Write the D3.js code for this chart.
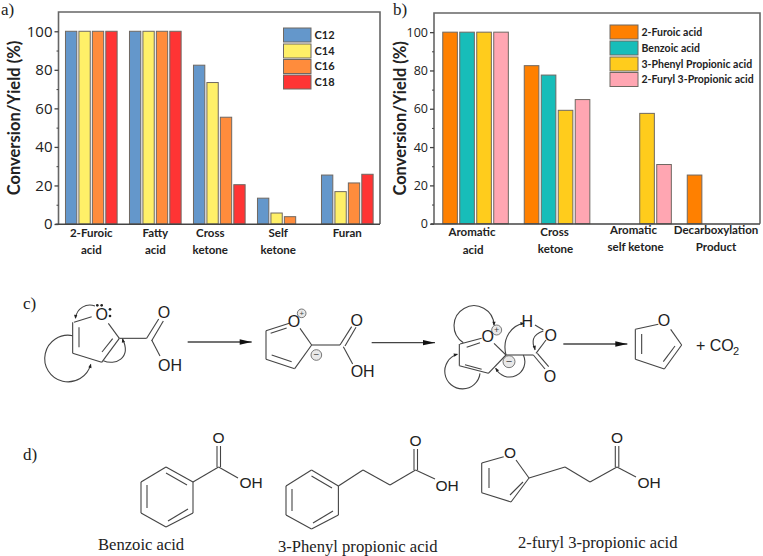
<!DOCTYPE html>
<html><head><meta charset="utf-8">
<script src="https://cdn.jsdelivr.net/npm/d3@7"></script>
<style>html,body{margin:0;padding:0;background:#fff}svg{display:block}</style>
</head><body><svg id="c" width="763" height="556"></svg>
<script>
// ---- panel a data
const catsA = ["2-Furoic|acid","Fatty|acid","Cross|ketone","Self|ketone","Furan"];
const seriesA = ["C12","C14","C16","C18"];
const c12 = [100,100,82.4,13.4,25.4];
const c14 = [100,100,73.4,5.7,16.8];
const c16 = [100,100,55.4,3.8,21.3];
const c18 = [100,100,20.4,null,25.8];
const coloursA = ["#6497cb","#fff068","#ff8c3c","#ff3434"];
// ---- panel b data
const catsB = ["Aromatic|acid","Cross|ketone","Aromatic|self ketone","Decarboxylation|Product"];
const seriesB = ["2-Furoic acid","Benzoic acid","3-Phenyl Propionic acid","2-Furyl 3-Propionic acid"];
const furoic = [100,82.5,null,25.4];
const benzoic = [100,77.6,null,null];
const phenyl = [100,59.2,57.6,null];
const furyl = [100,64.8,30.9,null];
const coloursB = ["#ff8000","#17bdb9","#ffcc1c","#ffa6b2"];
const majorTicks = [0,20,40,60,80,100];
const minorTicks = [10,30,50,70,90];

const svg = d3.select("#c");
const SANS = "'Open Sans',sans-serif", BOLD = "Lato,sans-serif", SERIF = "'Liberation Serif',serif", ARIAL = "'Liberation Sans',sans-serif";

function chart(o){
  const g = svg.append("g");
  const y = d3.scaleLinear().domain([0,110]).range([o.bottom,o.top]);
  const x = d3.scaleBand().domain(o.cats).range([o.left+o.pad,o.left+o.pad+o.step*o.cats.length]);
  const inner = d3.scaleBand().domain(o.series).range([0,x.bandwidth()*o.fill]).paddingInner(o.pi).paddingOuter(o.pi/2);
  const shift = (x.bandwidth()-x.bandwidth()*o.fill)/2;
  o.series.forEach((s,i)=>{
    g.append("g").selectAll("rect").data(o.values[i].map((v,j)=>({v,j})).filter(d=>d.v!=null)).join("rect")
      .attr("x",d=>x(o.cats[d.j])+shift+inner(s)).attr("width",inner.bandwidth())
      .attr("y",d=>y(d.v)).attr("height",d=>y(0)-y(d.v))
      .attr("fill",o.colours[i]).attr("stroke","#6f6862").attr("stroke-width",1);
  });
  // frame
  g.append("path").attr("d",`M${o.left},${o.bottom}V${o.top}H${o.right}V${o.bottom}`).attr("fill","none").attr("stroke","#666").attr("stroke-width",1.6);
  g.append("line").attr("x1",o.left-3).attr("x2",o.right).attr("y1",o.bottom+.3).attr("y2",o.bottom+.3).attr("stroke","#444").attr("stroke-width",1.5);
  // axis
  const ax = g.append("g").attr("transform",`translate(${o.left},0)`)
    .call(d3.axisLeft(y).tickValues(majorTicks).tickSize(4).tickPadding(2).tickFormat(d3.format("d")));
  ax.select(".domain").remove();
  ax.selectAll("line").attr("stroke","#444").attr("stroke-width",1.3);
  ax.selectAll("text").attr("font-family",SANS).attr("font-size",o.tickFont).attr("fill","#222");
  const mn = g.append("g").attr("transform",`translate(${o.left},0)`).call(d3.axisLeft(y).tickValues(minorTicks).tickSize(2).tickFormat(""));
  mn.select(".domain").remove();
  mn.selectAll("line").attr("stroke","#444");
  // title
  g.append("text").attr("transform",`translate(${o.titleX},${(o.top+o.bottom)/2}) rotate(-90)`)
    .attr("dy","0.35em").attr("text-anchor","middle").attr("font-family",BOLD).attr("font-weight",700)
    .attr("font-size",o.titleFont).attr("fill","#222").text("Conversion/Yield (%)");
  // categories
  o.cats.forEach((c,i)=>{
    c.split("|").forEach((p,k)=>g.append("text").attr("x",x(c)+x.bandwidth()/2+o.labelDx[i][k]).attr("y",o.labelY[i][k]).attr("text-anchor","middle")
      .attr("font-family",BOLD).attr("font-weight",700).attr("font-size",o.catFont).attr("fill","#222").attr("dy","0.35em").text(p));
  });
  // legend
  o.series.forEach((s,i)=>{
    g.append("rect").attr("x",o.lx).attr("y",o.ly[i]).attr("width",o.lw).attr("height",o.lh).attr("fill",o.colours[i]).attr("stroke","#6f6862").attr("stroke-width",1);
    g.append("text").attr("x",o.lx+o.lw+o.lgap).attr("y",o.ly[i]+o.lh/2).attr("dy","0.35em").attr("font-family",BOLD).attr("font-weight",700).attr("font-size",o.legFont).attr("fill","#222").text(s);
  });
}
chart({cats:catsA,series:seriesA,values:[c12,c14,c16,c18],colours:coloursA,left:58.5,right:380,top:12,bottom:224,pad:.8,step:64,fill:.84,pi:.157,
  tickFont:15,titleFont:16.5,titleX:14,catFont:11.5,
  labelDx:[[0,0],[0,0],[-9,-9],[-5,-5],[0,0]],labelY:[[233,250],[233,250],[233,250],[233,250],[233,250]],
  lx:283.5,ly:[28,44,59.5,75],lw:27.5,lh:14,lgap:3.5,legFont:11});
chart({cats:catsB,series:seriesB,values:[furoic,benzoic,phenyl,furyl],colours:coloursB,left:434,right:760,top:13,bottom:223.7,pad:.8,step:81.5,fill:.834,pi:.14,
  tickFont:12.5,titleFont:16.5,titleX:400,catFont:11.5,
  labelDx:[[-3.5,-2.5],[-2.5,-1.5],[-5,-3],[-4,-4]],labelY:[[232,250],[232,249],[230,247],[230,247]],
  lx:610,ly:[25,41,57,72.5],lw:28,lh:14,lgap:3.5,legFont:10.5});

// ---- panel letters
const panelLabels=[["a)",1,15],["b)",393,15],["c)",23,309],["d)",23,460]];
panelLabels.forEach(d=>svg.append("text").attr("x",d[1]).attr("y",d[2]).attr("font-family",SERIF).attr("font-size",17).attr("fill","#222").text(d[0]));

// ---- scheme c : drawn in 3x coordinates
const INK="#444";
function scheme(tx,ty,k,bonds,arcs,labels,circles,arrows){
  const g=svg.append("g").attr("transform",`translate(${tx},${ty}) scale(${k})`);
  const sw=1.1/k;
  g.selectAll(".b").data(bonds).join("line").attr("x1",d=>d[0]).attr("y1",d=>d[1]).attr("x2",d=>d[2]).attr("y2",d=>d[3]).attr("stroke",INK).attr("stroke-width",sw);
  (circles||[]).forEach(d=>{
    g.append("circle").attr("cx",d[0]).attr("cy",d[1]).attr("r",d[2]).attr("fill","#e8e8e8").attr("stroke","#666").attr("stroke-width",sw*.8);
    g.append("text").attr("x",d[0]).attr("y",d[1]).attr("dy","0.35em").attr("text-anchor","middle").attr("font-family",ARIAL).attr("font-size",d[2]*1.8).attr("fill","#444").text(d[3]);
  });
  (arcs||[]).forEach(d=>{
    g.append("path").attr("d",d[0]).attr("fill","none").attr("stroke",INK).attr("stroke-width",sw);
    const [x,y,a]=d[1];
    g.append("path").attr("d","M0,0L-18,-7L-18,7Z").attr("fill","#222").attr("transform",`translate(${x},${y}) rotate(${a}) scale(.7)`);
  });
  (arrows||[]).forEach(d=>{
    g.append("line").attr("x1",d[0]).attr("y1",d[2]).attr("x2",d[1]).attr("y2",d[2]).attr("stroke",INK).attr("stroke-width",sw*1.2);
    g.append("path").attr("d",`M${d[1]},${d[2]}L${d[1]-36},${d[2]-8}L${d[1]-36},${d[2]+8}Z`).attr("fill","#111");
  });
  (labels||[]).forEach(d=>g.append("text").attr("x",d[1]).attr("y",d[2]).attr("dy","0.35em").attr("text-anchor","middle").attr("font-family",ARIAL).attr("font-size",(d[3]||16)/k).attr("fill","#222").text(d[0]));
  return g;
}
const dots=[[292,106],[305,106],[330,118],[330,138]];
const g1=scheme(0,270,1/3,
 [[275,140,222,157],[218,157,218,250],[237,172,237,232],[218,250,305,277],[305,277,358,205],[306,246,338,206],[325,160,358,205],[358,205,440,205],[440,205,476,147],[455,212,490,153],[455,210,480,258],
  [868,160,798,182],[860,174,812,190],[798,182,798,268],[798,268,884,296],[815,255,875,275],[884,296,935,225],[900,175,935,225],[935,225,1020,225],[1020,225,1055,170],[1035,228,1068,172],[1030,230,1058,282]],
 [["M285,108A43,43,0,0,0,227,143",[226,147,95]],
  ["M218,197A70,70,0,1,0,272,283",[273,281,-75]],
  ["M310,272C345,288,395,265,368,207",[367,205,-105]]],
 [["O",305,133],["O",492,128],["OH",510,285],["O",882,155],["O",1070,150],["OH",1088,305]],
 [[905,130,13,"+"],[949,255,16,"−"]],
 [[563,755,216],[1115,1305,218]]);
g1.selectAll(".d").data(dots).join("circle").attr("cx",d=>d[0]).attr("cy",d=>d[1]).attr("r",4).attr("fill","#222");
scheme(400,270,1/3,
 [[245,205,180,222],[200,232,240,218],[178,222,178,287],[178,287,265,310],[195,284,245,298],[265,310,318,255],[282,220,318,255],[318,255,400,255],[400,255,435,297],[412,250,446,290],[408,250,438,210],[405,165,430,180],
  [706,178,775,163],[706,178,706,268],[725,192,725,252],[706,268,793,297],[793,297,845,225],[790,275,825,228],[812,178,845,225]],
 [["M190,218A60,60,0,1,1,282,165",[282,168,90]],
  ["M318,255C305,205,335,165,372,160",[374,160,-5]],
  ["M430,183C395,195,395,215,405,240",[406,240,75]],
  ["M370,255A43,43,0,0,1,287,295",[286,293,-125]],
  ["M240,310A53,53,0,1,1,172,253",[174,252,-15]]],
 [["O",263,200],["H",382,155],["O",452,195],["O",450,318],["O",792,152]],
 [[290,180,15,"+"],[327,275,18,"−"]],
 [[490,682,222]]);
svg.append("text").attr("x",696).attr("y",351).attr("font-family",ARIAL).attr("font-size",16).attr("fill","#222").text("+ CO");
svg.append("text").attr("x",733).attr("y",355).attr("font-family",ARIAL).attr("font-size",11).attr("fill","#222").text("2");

// ---- panel d : drawn in page coordinates
scheme(0,0,1,
 [[166,467,193,482],[193,482,193,513],[193,513,166,527],[166,527,141,513],[141,513,141,482],[141,482,166,467],[166,473,187,485],[147,485,147,508],[168,521,188,509],
  [193,482,218.6,467],[217,467,217,446],[220.5,467,220.5,446],[218.6,467,238,478],
  [311.5,470,338.4,486],[338.4,486,338.4,515],[338.4,515,311.5,529],[311.5,529,286,515],[286,515,286,486],[286,486,311.5,470],[311.5,476,332,488],[292,489,292,511],[313,523,333,511],
  [338.4,486,363,470],[363,470,390,485],[390,485,415.6,470],[415.6,470,435,479],[414,470,414,449],[417.5,470,417.5,449],
  [503.7,456.7,481.7,463],[481.7,463,481.7,492.7],[481.7,492.7,511,502],[511,502,529,478],[529,478,516,460],[489,468,489,488],[510,495,523,482],
  [529,478,565,467],[565,467,590,482],[590,482,617,467],[617,467,636,477],[615.3,467,615.3,446],[618.8,467,618.8,446]],
 [],
 [["O",218.6,438,15.5],["OH",251,483,15.5],["O",415.6,441,15.5],["OH",447,486,15.5],["O",510,453,15.5],["O",617,438,15.5],["OH",649,483,15.5]]);
const nameLabels=[["Benzoic acid",98,544],["3-Phenyl propionic acid",278,546],["2-furyl 3-propionic acid",518,542]];
nameLabels.forEach(d=>svg.append("text").attr("x",d[1]).attr("y",d[2]).attr("dy","0.35em").attr("font-family",SERIF).attr("font-size",16.6).attr("fill","#222").text(d[0]));
</script></body></html>
